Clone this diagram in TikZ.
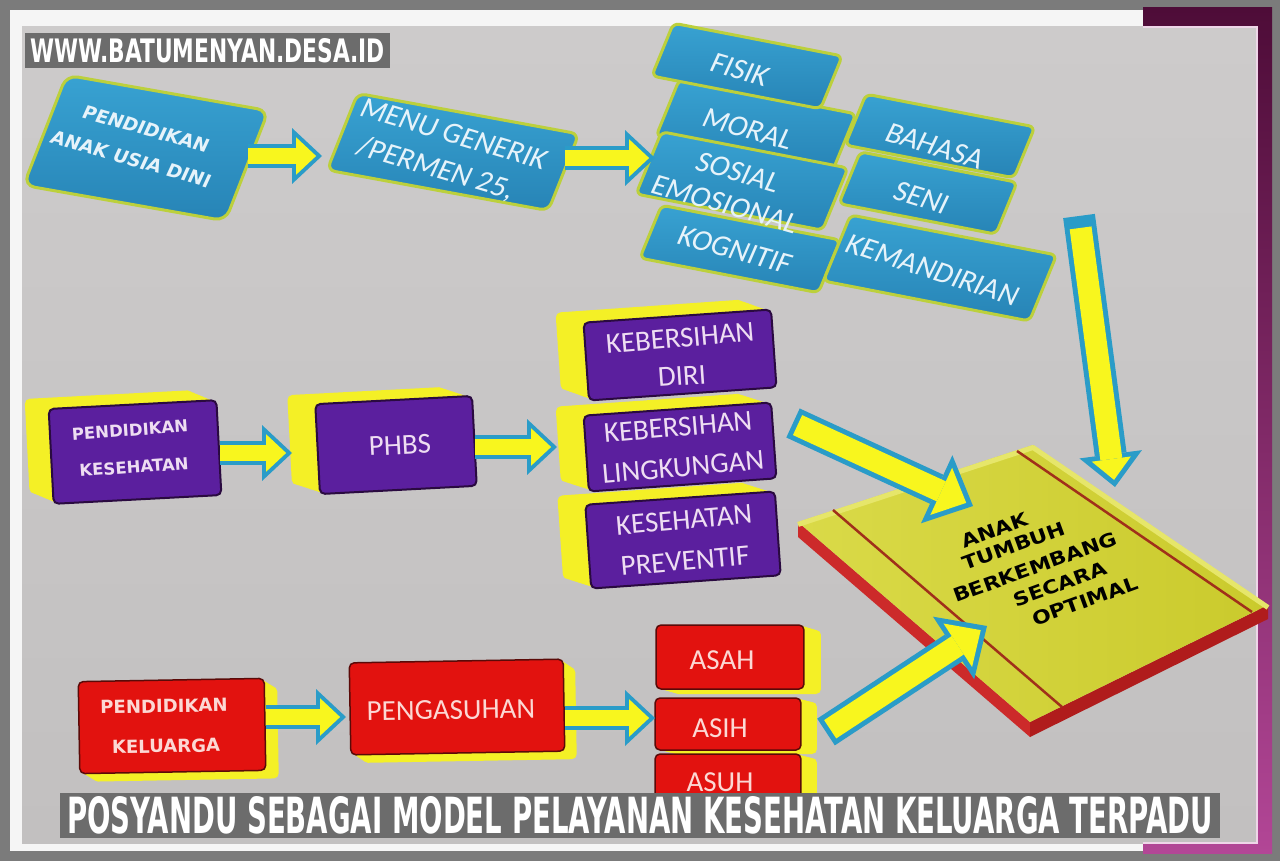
\documentclass[tikz,border=0pt]{standalone}
\usepackage{fontspec}
\usepackage{graphicx}
\usetikzlibrary{arrows.meta,calc}
\setmainfont{Carlito}
\newfontfamily\carl{Carlito}
\newfontfamily\djs{DejaVu Sans}
\definecolor{framegray}{HTML}{7B7B7B}
\definecolor{paper}{HTML}{F5F5F5}
\definecolor{graytop}{HTML}{CDCBCB}
\definecolor{graybot}{HTML}{C2C0C0}
\definecolor{pinkline}{HTML}{EED6E8}
\definecolor{plumtop}{HTML}{4E0C38}
\definecolor{plumbot}{HTML}{B24696}
\definecolor{bannergray}{HTML}{6C6C6C}
\definecolor{bluefill}{HTML}{2784B6}
\definecolor{bluetop}{HTML}{38A2D2}
\definecolor{bluebord}{HTML}{BCD03C}
\definecolor{bluetext}{HTML}{E6F3FA}
\definecolor{purp}{HTML}{5B1F9E}
\definecolor{purpedge}{HTML}{2A0A40}
\definecolor{purptext}{HTML}{EEDDF2}
\definecolor{yel}{HTML}{F4F026}
\definecolor{redf}{HTML}{E2120F}
\definecolor{rededge}{HTML}{5A0A08}
\definecolor{redtext}{HTML}{FCD8D4}
\definecolor{abl}{HTML}{2A9CC8}
\definecolor{ayel}{HTML}{F8F61E}
\definecolor{booktop}{HTML}{CACA2C}
\definecolor{booklite}{HTML}{DADA48}
\definecolor{bookedge}{HTML}{E6E66A}
\definecolor{bookred}{HTML}{CC2A2A}
\definecolor{bookdark}{HTML}{B01C1C}
\definecolor{bookline}{HTML}{A0301A}
\tikzset{
  bbox/.style={draw=bluebord, line width=0.06cm, top color=bluetop, bottom color=bluefill,
    rounded corners=0.12cm, inner sep=0pt, xslant=0.2},
  ex/.style 2 args={preaction={fill=yel, transform canvas={shift={($#2*(#1)$)}}}},
  extrude/.style={ex={#1}{1.0}, ex={#1}{0.875}, ex={#1}{0.75}, ex={#1}{0.625},
    ex={#1}{0.5}, ex={#1}{0.375}, ex={#1}{0.25}, ex={#1}{0.125}},
  pbox/.style={fill=purp, draw=purpedge, line width=0.04cm, rounded corners=0.1cm, inner sep=0pt},
  rbox/.style={fill=redf, draw=rededge, line width=0.03cm, rounded corners=0.1cm, inner sep=0pt},
  tbb/.style={font=\fontsize{10.5}{12}\djs\bfseries, text=bluetext, inner sep=0pt},
  tbr/.style={font=\fontsize{17}{20}\carl, text=bluetext, inner sep=0pt},
  tpb/.style={font=\fontsize{9.4}{11}\djs\bfseries, text=purptext, inner sep=0pt},
  tpr/.style={font=\fontsize{16.5}{19}\carl, text=purptext, inner sep=0pt},
  trb/.style={font=\fontsize{10.3}{12}\djs\bfseries, text=redtext, inner sep=0pt},
  trr/.style={font=\fontsize{16.5}{19}\carl, text=redtext, inner sep=0pt},
  tbk/.style={font=\fontsize{12.5}{14}\djs\bfseries, text=black, inner sep=0pt},
  oS/.style={draw=abl, line width=0.48cm, -{Triangle[length=0.6cm,width=1.12cm,line width=0pt]}},
  iS/.style={draw=ayel, line width=0.32cm, shorten >=0.118cm, -{Triangle[length=0.40cm,width=0.75cm,line width=0pt]}},
  oL/.style={draw=abl, line width=0.64cm, -{Triangle[length=0.8cm,width=1.5cm,line width=0pt]}},
  iL/.style={draw=ayel, line width=0.44cm, shorten >=0.15cm, shorten <=0.1cm, -{Triangle[length=0.55cm,width=1.04cm,line width=0pt]}},
  oV/.style={draw=abl, line width=0.64cm, -{Triangle[length=0.66cm,width=1.26cm,line width=0pt]}},
  iV/.style={draw=ayel, line width=0.44cm, shorten >=0.144cm, shorten <=0.24cm, -{Triangle[length=0.42cm,width=0.79cm,line width=0pt]}},
  banner/.style={fill=bannergray, inner sep=0pt, text=white}
}
\begin{document}
\begin{tikzpicture}[x=0.02cm,y=-0.02cm]
\useasboundingbox (0,0) rectangle (1280,861);
% ---------- frame ----------
\fill[framegray] (0,0) rectangle (1280,861);
\fill[paper] (10,10) rectangle (1272,851);
\shade[top color=plumtop, bottom color=plumbot] (1143,8) rectangle (1272,853);
\shade[top color=graytop, bottom color=graybot] (22,27) rectangle (1257,843);
\draw[pinkline, line width=0.05cm] (1143,27) -- (1257,27) -- (1257,843) -- (1143,843);

% ---------- row 1 : blue ----------
\node[rotate=-11, bbox, minimum width=3.6cm, minimum height=1.2cm] (mor) at (756,125) {};
\node[rotate=-11, bbox, minimum width=3.64cm, minimum height=1.12cm] (kog) at (740,249) {};
\node[rotate=-11, bbox, minimum width=3.44cm, minimum height=1.12cm] (fis) at (747,66) {};
\node[rotate=-11, bbox, minimum width=3.8cm, minimum height=1.32cm] (sos) at (742,181) {};
\node[rotate=-11, bbox, minimum width=3.44cm, minimum height=1.08cm] (bah) at (940,136) {};
\node[rotate=-11, bbox, minimum width=3.2cm, minimum height=1.1cm] (sen) at (928,193) {};
\node[rotate=-11, bbox, minimum width=4.2cm, minimum height=1.4cm] (kem) at (940,268) {};
\node[tbr, rotate=-16, xslant=0.15] (tfis) at (740,70) {FISIK};
\node[tbr, rotate=-16, xslant=0.15] (tmor) at (748,129) {MORAL};
\node[tbr, rotate=-16, xslant=0.15] (tsos) at (738,172) {SOSIAL};
\node[tbr, rotate=-16, xslant=0.15] (temo) at (725,204) {EMOSIONAL};
\node[tbr, rotate=-15, xslant=0.15] (tkog) at (735,250) {KOGNITIF};
\node[tbr, rotate=-17, xslant=0.15] (tbah) at (935,146) {BAHASA};
\node[tbr, rotate=-17, xslant=0.15] (tsen) at (922,198) {SENI};
\node[tbr, rotate=-18, xslant=0.15] (tkem) at (933,270) {KEMANDIRIAN};

\node[rotate=-10, bbox, rounded corners=0.22cm, minimum width=4.1cm, minimum height=2.32cm] (b1) at (146,148) {};
\node[rotate=-10.4, bbox, rounded corners=0.16cm, minimum width=4.5cm, minimum height=1.62cm] (b2) at (453,152) {};
\node[tbb, rotate=-16, xslant=0.15] (t1a) at (146,129) {PENDIDIKAN};
\node[tbb, rotate=-16, xslant=0.15] (t1b) at (131,159) {ANAK USIA DINI};
\node[tbr, rotate=-16.5, xslant=0.15] (t2a) at (454,134) {MENU GENERIK};
\node[tbr, rotate=-16.5, xslant=0.15] (t2b) at (436,169) {/PERMEN 25,};

\coordinate (a1e) at (322,156);
\coordinate (a2e) at (655,158);
\draw[oS] (b1.east |- a1e) -- (a1e);
\draw[iS] (b1.east |- a1e) -- (a1e);
\draw[oS] (b2.east |- a2e) -- (a2e);
\draw[iS] (b2.east |- a2e) -- (a2e);

% ---------- row 2 : purple ----------
\node[rotate=3, pbox, extrude={-24,-10}, minimum width=3.36cm, minimum height=1.9cm] (pk) at (135,452) {};
\node[rotate=3, pbox, extrude={-28,-9}, minimum width=3.14cm, minimum height=1.8cm] (phbs) at (396,445) {};
\node[rotate=4, pbox, extrude={-28,-10}, minimum width=3.76cm, minimum height=1.56cm] (kd) at (680,355) {};
\node[rotate=4, pbox, extrude={-28,-9}, minimum width=3.76cm, minimum height=1.52cm] (kl) at (680,447) {};
\node[rotate=4, pbox, extrude={-28,-9}, minimum width=3.8cm, minimum height=1.68cm] (kp) at (683,540) {};
\node[tpb, rotate=4] (tpk1) at (130,430) {PENDIDIKAN};
\node[tpb, rotate=4] (tpk2) at (134,467) {KESEHATAN};
\node[tpr, rotate=3] (tphbs) at (400,445) {PHBS};
\node[tpr, rotate=5] (tkd1) at (680,338) {KEBERSIHAN};
\node[tpr, rotate=4] (tkd2) at (682,376) {DIRI};
\node[tpr, rotate=5] (tkl1) at (678,427) {KEBERSIHAN};
\node[tpr, rotate=5] (tkl2) at (683,467) {LINGKUNGAN};
\node[tpr, rotate=5] (tkp1) at (684,520) {KESEHATAN};
\node[tpr, rotate=5] (tkp2) at (685,561) {PREVENTIF};

\coordinate (a3e) at (292,453);
\coordinate (a4e) at (557,447);
\draw[oS] (pk.east |- a3e) -- (a3e);
\draw[iS] (pk.east |- a3e) -- (a3e);
\draw[oS] (phbs.east |- a4e) -- (a4e);
\draw[iS] (phbs.east |- a4e) -- (a4e);

% ---------- row 3 : red ----------
\node[rotate=1, rbox, extrude={13,8}, minimum width=3.72cm, minimum height=1.84cm] (pkel) at (172,726) {};
\node[rotate=1, rbox, extrude={12,8}, minimum width=4.28cm, minimum height=1.84cm] (peng) at (457,707) {};
\node[rbox, extrude={17,5}, minimum width=2.96cm, minimum height=1.28cm] (asah) at (730,657) {};
\node[rbox, extrude={16,4}, minimum width=2.92cm, minimum height=1.04cm] (asih) at (728,724) {};
\node[rbox, extrude={16,4}, minimum width=2.92cm, minimum height=1.04cm] (asuh) at (728,780) {};
\node[trb, rotate=1] (tpkel1) at (164,706) {PENDIDIKAN};
\node[trb, rotate=1] (tpkel2) at (166,746) {KELUARGA};
\node[trr, rotate=1] (tpeng) at (451,710) {PENGASUHAN};
\node[trr] (tasah) at (722,660) {ASAH};
\node[trr] (tasih) at (720,728) {ASIH};
\node[trr] (tasuh) at (720,782) {ASUH};

\coordinate (a5e) at (346,717);
\coordinate (a6e) at (655,718);
\draw[oS] (pkel.east |- a5e) -- (a5e);
\draw[iS] (pkel.east |- a5e) -- (a5e);
\draw[oS] (peng.east |- a6e) -- (a6e);
\draw[iS] (peng.east |- a6e) -- (a6e);

% ---------- book ----------
\coordinate (bkL) at (798,522);
\coordinate (bkT) at (1033,445);
\coordinate (bkR) at (1268,605);
\coordinate (bkB) at (1030,722);
\fill[bookred] (bkL) -- (bkB) -- ([yshift=-0.3cm]bkB) -- ([yshift=-0.3cm]bkL) -- cycle;
\fill[bookdark] (bkB) -- (bkR) -- ([yshift=-0.28cm]bkR) -- ([yshift=-0.3cm]bkB) -- cycle;
\shade[left color=booklite, right color=booktop] (bkL) -- (bkT) -- (bkR) -- (bkB) -- cycle;
\draw[bookedge, line width=0.1cm, line join=round] ([yshift=-0.05cm]bkL) -- ([yshift=-0.05cm]bkT) -- ([yshift=-0.05cm]bkR);
\draw[bookline, line width=0.05cm] (833,510) -- (1062,707);
\draw[bookline, line width=0.05cm] (1017,451) -- (1252,612);
\node[tbk, rotate=20, yscale=0.85] (bk1) at (995,530) {ANAK};
\node[tbk, rotate=20, yscale=0.85] (bk2) at (1014,546) {TUMBUH};
\node[tbk, rotate=20, yscale=0.85] (bk3) at (1035,567) {BERKEMBANG};
\node[tbk, rotate=20, yscale=0.85] (bk4) at (1060,584) {SECARA};
\node[tbk, rotate=20, yscale=0.85] (bk5) at (1085,601) {OPTIMAL};

% ---------- arrows into the book ----------
\coordinate (a7s) at (793,423);
\coordinate (a7e) at (973,506);
\coordinate (a8s) at (826,732);
\coordinate (a8e) at (987,626);
\coordinate (a9s) at (1079,216);
\coordinate (a9e) at (1115,487);
\draw[oL] (a7s) -- (a7e);
\draw[iL] (a7s) -- (a7e);
\draw[oL] (a8s) -- (a8e);
\draw[iL] (a8s) -- (a8e);
\draw[oV] (a9s) -- (a9e);
\draw[iV] (a9s) -- (a9e);

% ---------- banners ----------
\node[banner, minimum width=7.3cm, minimum height=0.7cm] (web) at (207.5,50.5)
  {\resizebox{7.1cm}{0.48cm}{\djs\bfseries WWW.BATUMENYAN.DESA.ID}};
\node[banner, minimum width=23.2cm, minimum height=0.9cm] (title) at (640,815.5)
  {\resizebox{22.92cm}{0.74cm}{\djs\bfseries POSYANDU SEBAGAI MODEL PELAYANAN KESEHATAN KELUARGA TERPADU}};
\end{tikzpicture}
\end{document}
